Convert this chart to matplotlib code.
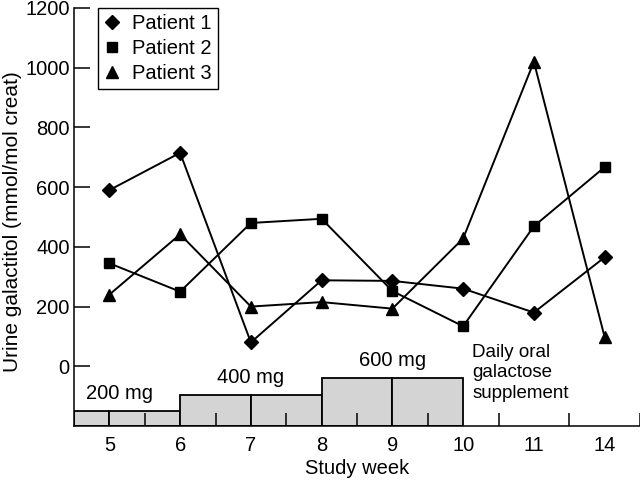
import matplotlib
matplotlib.use('Agg')
import matplotlib.pyplot as plt
from matplotlib.lines import Line2D

plt.rcParams['font.family'] = ['Liberation Sans', 'DejaVu Sans']
plt.rcParams['font.size'] = 14.5

weeks = ['5', '6', '7', '8', '9', '10', '11', '14']
patient1 = [590, 715, 80, 288, 286, 260, 180, 365]
patient2 = [345, 250, 480, 494, 252, 134, 469, 667]
patient3 = [240, 442, 200, 215, 193, 428, 1020, 98]

# dose boxes under the axis (week index, width, top value)
box_left = [-0.5, 0, 1, 2, 3, 4]
box_width = [0.5, 1, 1, 1, 1, 1]
box_top = [-150, -150, -95, -95, -40, -40]
dose_labels = ['200 mg', '400 mg', '600 mg']

y_bottom = -200

fig = plt.figure(figsize=(6.4, 4.84), dpi=100)
ax = fig.add_axes([74 / 640, 58 / 484, 566 / 640, 418 / 484])

x = list(range(len(weeks)))

for left, w, top in zip(box_left, box_width, box_top):
    ax.bar(left, top - y_bottom, width=w, bottom=y_bottom, align='edge',
           color='#d4d4d4', edgecolor='black', linewidth=1.3, zorder=1)

ax.plot(x, patient1, color='black', lw=1.4, marker='D', ms=7.5, zorder=3)
ax.plot(x, patient2, color='black', lw=1.4, marker='s', ms=7, zorder=3)
ax.plot(x, patient3, color='black', lw=1.4, marker='^', ms=8.5, zorder=3)

ax.text(0.14, -111, dose_labels[0], ha='center', va='baseline')
ax.text(2.0, -56, dose_labels[1], ha='center', va='baseline')
ax.text(4.0, 1, dose_labels[2], ha='center', va='baseline')
ax.text(5.13, 76, 'Daily oral\ngalactose\nsupplement', ha='left', va='top',
        linespacing=1.3, fontsize=13.5)

ax.set_xlim(-0.5, len(weeks) - 0.5)
ax.set_ylim(y_bottom, 1200)
ax.set_xticks(x)
ax.set_xticklabels(weeks)
ax.set_xticks([i + 0.5 for i in x], minor=True)
ax.tick_params(axis='x', which='major', length=0, pad=7)
ax.tick_params(axis='x', which='minor', direction='in', length=9.5, width=1.1)
ax.set_yticks(range(0, 1201, 200))
ax.tick_params(axis='y', direction='in', length=11.5, width=1.1, pad=3)

for s in ['top', 'right']:
    ax.spines[s].set_visible(False)
for s in ['left', 'bottom']:
    ax.spines[s].set_linewidth(1.1)

ax.set_ylabel('Urine galactitol (mmol/mol creat)', fontsize=15)
ax.yaxis.set_label_coords(-0.092, 0.489)
ax.set_xlabel('Study week')
ax.xaxis.set_label_coords(0.5, -0.08)

handles = [Line2D([], [], color='black', marker='D', ls='none', ms=7.5),
           Line2D([], [], color='black', marker='s', ls='none', ms=7),
           Line2D([], [], color='black', marker='^', ls='none', ms=8.5)]
leg = ax.legend(handles, ['Patient 1', 'Patient 2', 'Patient 3'], loc='upper left',
                bbox_to_anchor=(0.042, 1.0), borderaxespad=0, fancybox=False,
                framealpha=1, edgecolor='black', handlelength=0.8,
                handletextpad=0.6, labelspacing=0.3, borderpad=0.3)
leg.get_frame().set_linewidth(1.0)

fig.savefig('out.png', dpi=100)
